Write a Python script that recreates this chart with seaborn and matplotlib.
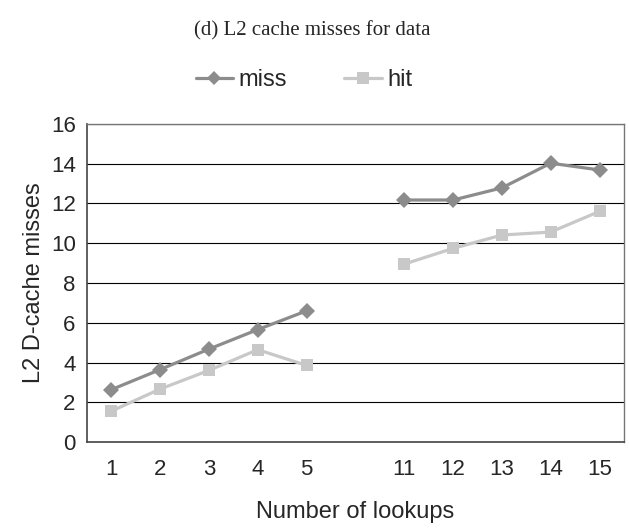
import numpy as np
import pandas as pd
import matplotlib
matplotlib.use("Agg")
import matplotlib.pyplot as plt
from matplotlib.lines import Line2D
import seaborn as sns

lookups = ["1", "2", "3", "4", "5", "", "11", "12", "13", "14", "15"]
miss = [2.64, 3.65, 4.68, 5.66, 6.60, None, 12.17, 12.17, 12.78, 14.02, 13.68]
hit = [1.56, 2.67, 3.61, 4.65, 3.86, None, 8.95, 9.74, 10.41, 10.56, 11.60]
series_names = ["miss", "hit"]
colors = {"miss": "#8c8c8c", "hit": "#c8c8c8"}
markers = {"miss": "D", "hit": "s"}

rows = []
for name, vals in zip(series_names, [miss, hit]):
    seg = 0
    for i, (lab, v) in enumerate(zip(lookups, vals)):
        if v is None:
            seg += 1
            continue
        rows.append({"pos": i, "value": v, "series": name, "seg": seg})
df = pd.DataFrame(rows)

sns.set_style("white")
plt.rcParams["font.family"] = ["Liberation Sans", "DejaVu Sans"]

fig = plt.figure(figsize=(6.29, 5.29), dpi=100)
ax = fig.add_axes([0.138, 0.164, 0.854, 0.602])

sns.lineplot(data=df, x="pos", y="value", hue="series", style="series",
             units="seg", estimator=None, palette=colors, markers=markers,
             dashes=False, linewidth=2.3, markersize=8, markeredgewidth=0,
             ax=ax, legend=False, hue_order=series_names, style_order=series_names)

ax.set_xlim(-0.5, len(lookups) - 0.5)
ax.set_ylim(0, 16)
ax.set_yticks(np.arange(0, 17, 2))
ax.set_xticks(range(len(lookups)))
ax.set_xticklabels(lookups, fontsize=16)
ax.set_xticks(np.arange(-0.5, len(lookups), 1), minor=True)
ax.tick_params(axis="x", which="major", length=0, pad=12)
ax.tick_params(axis="x", which="minor", length=5, width=1, color="#444444", direction="out")
ax.tick_params(axis="y", which="major", length=5, width=1, color="#444444", direction="out", labelsize=16, pad=3)
ax.yaxis.grid(True, color="black", linewidth=0.8)
ax.set_axisbelow(True)
for s in ["left", "bottom"]:
    ax.spines[s].set_color("#444444")
    ax.spines[s].set_linewidth(1.2)
for s in ["top", "right"]:
    ax.spines[s].set_color("#777777")
    ax.spines[s].set_linewidth(1.0)

ax.set_xlabel("Number of lookups", fontsize=17, labelpad=15)
ax.set_ylabel("L2 D-cache misses", fontsize=17, labelpad=4)

handles = [Line2D([], [], color=colors[n], marker=markers[n], lw=2.3, markersize=8 if n == "hit" else 7,
                  markeredgewidth=0) for n in series_names]
fig.legend(handles, series_names, loc="center", bbox_to_anchor=(0.483, 0.848), ncol=2, frameon=False,
           fontsize=17, handlelength=1.6, handletextpad=0.2, columnspacing=2.45)

fig.text(0.497, 0.942, "(d) L2 cache misses for data", ha="center", va="center",
         fontsize=15, family=["Liberation Serif", "DejaVu Serif"])

fig.savefig("out.png", dpi=100)
